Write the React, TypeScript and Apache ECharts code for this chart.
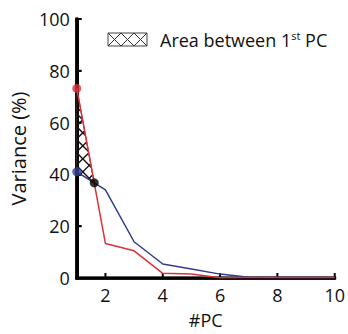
import React, { useEffect, useRef } from "react";
import * as echarts from "echarts";

const pcs = [1, 2, 3, 4, 5, 6, 7, 8, 9, 10];
const redValues = [73.2, 13.3, 10.5, 1.8, 1.5, 0.1, 0.2, 0.2, 0.2, 0.2];
const blueValues = [41, 34, 14, 5.4, 3.5, 1.5, 0.3, 0.2, 0.2, 0.2];
const xTicks = [2, 4, 6, 8, 10];
const yTicks = [0, 20, 40, 60, 80, 100];
const legendText = "Area between 1";
const legendSup = "st";
const legendTail = " PC";

const FONT = "Open Sans";
const RED = "#e0303a";
const BLUE = "#323d8e";

function clipLineToPolygon(poly: number[][], s: number, c: number) {
  const pts: number[][] = [];
  for (let i = 0; i < poly.length; i++) {
    const p = poly[i];
    const q = poly[(i + 1) % poly.length];
    const dx = q[0] - p[0];
    const dy = q[1] - p[1];
    const denom = dy - s * dx;
    if (Math.abs(denom) < 1e-9) continue;
    const t = (s * p[0] + c - p[1]) / denom;
    if (t >= -1e-9 && t <= 1 + 1e-9) pts.push([p[0] + t * dx, p[1] + t * dy]);
  }
  if (pts.length < 2) return null;
  pts.sort((a, b) => a[0] - b[0]);
  const a = pts[0];
  const b = pts[pts.length - 1];
  if (Math.hypot(a[0] - b[0], a[1] - b[1]) < 0.5) return null;
  return [a, b];
}

function hatchLines(poly: number[][], spacing: number, stroke: string, lw: number, ox: number, oy: number) {
  const local = poly.map((p) => [p[0] - ox, p[1] - oy]);
  const xs = local.map((p) => p[0]);
  const ys = local.map((p) => p[1]);
  const els: any[] = [];
  for (const s of [1, -1]) {
    const c0 = s === 1 ? Math.min(...ys) - Math.max(...xs) : Math.min(...ys) + Math.min(...xs);
    const c1 = s === 1 ? Math.max(...ys) - Math.min(...xs) : Math.max(...ys) + Math.max(...xs);
    const start = Math.floor(c0 / spacing) * spacing;
    for (let c = start; c <= c1 + spacing; c += spacing) {
      const seg = clipLineToPolygon(local, s, c);
      if (seg) {
        els.push({
          type: "line",
          shape: { x1: seg[0][0] + ox, y1: seg[0][1] + oy, x2: seg[1][0] + ox, y2: seg[1][1] + oy },
          style: { stroke, lineWidth: lw },
        });
      }
    }
  }
  return els;
}

export default function App() {
  const ref = useRef<HTMLDivElement>(null);
  useEffect(() => {
    if (!ref.current) return;
    const chart = echarts.init(ref.current, undefined, { renderer: "svg" });

    const d0 = redValues[0] - blueValues[0];
    const d1 = redValues[1] - blueValues[1];
    const t = d0 / (d0 - d1);
    const xi = pcs[0] + t * (pcs[1] - pcs[0]);
    const yi = redValues[0] + t * (redValues[1] - redValues[0]);
    const xMin = pcs[0];
    const xMax = pcs[pcs.length - 1];
    const yMin = yTicks[0];
    const yMax = yTicks[yTicks.length - 1];

    const legendPoly = [
      [108, 33],
      [147, 33],
      [147, 46],
      [108, 46],
    ];

    chart.setOption({
      animation: false,
      grid: { left: 72, right: 11, top: 19, bottom: 51 },
      xAxis: {
        type: "value",
        min: xMin,
        max: xMax,
        interval: 1,
        name: "#PC",
        nameLocation: "middle",
        nameGap: 33,
        nameTextStyle: { fontFamily: FONT, fontSize: 18, color: "#111" },
        axisLine: { show: true, onZero: false, lineStyle: { color: "#000", width: 2.5 } },
        axisTick: { show: false },
        axisLabel: {
          fontFamily: FONT,
          fontSize: 18,
          color: "#111",
          margin: 8,
          formatter: (v: number) => (xTicks.indexOf(v) >= 0 ? String(v) : ""),
        },
        splitLine: { show: false },
      },
      yAxis: {
        type: "value",
        min: yMin,
        max: yMax,
        interval: 20,
        name: "Variance (%)",
        nameLocation: "middle",
        nameGap: 38,
        nameTextStyle: { fontFamily: FONT, fontSize: 20, color: "#111" },
        axisLine: { show: true, onZero: false, lineStyle: { color: "#000", width: 3 } },
        axisTick: { show: true, inside: true, length: 4, lineStyle: { color: "#000", width: 2 } },
        axisLabel: { fontFamily: FONT, fontSize: 18, color: "#111", margin: 7 },
        splitLine: { show: false },
      },
      series: [
        {
          type: "line",
          data: [
            [xMin, yMax],
            [xMin, yMin],
            [xMax, yMin],
          ],
          symbol: "none",
          clip: false,
          silent: true,
          lineStyle: { color: "#000", width: 3, cap: "square", join: "miter" },
          z: 1,
        },
        {
          type: "custom",
          coordinateSystem: "cartesian2d",
          data: [[xMin, yMin]],
          clip: false,
          renderItem: (_params: any, api: any) => {
            const A = api.coord([pcs[0], redValues[0]]);
            const C = api.coord([xi, yi]);
            const B = api.coord([pcs[0], blueValues[0]]);
            const poly = [A, C, B];
            return {
              type: "group",
              children: [
                {
                  type: "polygon",
                  shape: { points: poly },
                  style: { fill: "rgba(255,255,255,0)", stroke: "#3a2a2a", lineWidth: 1 },
                },
                ...hatchLines(poly, 13, "#111", 1.4, B[0] + 6, B[1]),
              ],
            };
          },
        },
        {
          type: "line",
          data: pcs.map((x, i) => [x, blueValues[i]]),
          symbol: "none",
          lineStyle: { color: BLUE, width: 1.5 },
          z: 3,
        },
        {
          type: "line",
          data: pcs.map((x, i) => [x, redValues[i]]),
          symbol: "none",
          lineStyle: { color: RED, width: 1.5 },
          z: 4,
        },
        {
          type: "scatter",
          data: [
            { value: [pcs[0], redValues[0]], itemStyle: { color: RED } },
            { value: [pcs[0], blueValues[0]], itemStyle: { color: BLUE } },
            { value: [xi, yi], itemStyle: { color: "#000" } },
          ],
          symbolSize: 9,
          z: 7,
        },
      ],
    });

    const px = (x: number, y: number) => chart.convertToPixel({ gridIndex: 0 }, [x, y]) as number[];
    const o = px(xMin, yMin);
    const top = px(xMin, yMax);
    const right = px(xMax, yMin);
    const axisEls: any[] = [
      {
        type: "rect",
        shape: { x: o[0] - 1.5, y: top[1] - 1, width: 3, height: o[1] - top[1] + 2.5 },
        style: { fill: "#000" },
      },
      {
        type: "rect",
        shape: { x: o[0] - 1.5, y: o[1] - 1.25, width: right[0] - o[0] + 2.5, height: 2.5 },
        style: { fill: "#000" },
      },
    ];
    xTicks.forEach((v) => {
      const c = px(v, yMin);
      axisEls.push({ type: "rect", shape: { x: c[0] - 1, y: o[1] - 5, width: 2, height: 4 }, style: { fill: "#000" } });
    });
    yTicks.forEach((v) => {
      const c = px(xMin, v);
      axisEls.push({ type: "rect", shape: { x: o[0] + 1, y: c[1] - 1, width: 4, height: 2 }, style: { fill: "#000" } });
    });

    chart.setOption({
      graphic: [
        {
          type: "group",
          z: 3,
          children: axisEls,
        },
        {
          type: "group",
          children: [
            {
              type: "rect",
              shape: { x: 108, y: 33, width: 39, height: 13 },
              style: { fill: "#fff", stroke: "#444", lineWidth: 1 },
            },
            ...hatchLines(legendPoly, 13, "#333", 1, 108, 33),
            {
              type: "text",
              x: 160,
              y: 39.5,
              style: {
                text: `{a|${legendText}}{s|${legendSup}}{a|${legendTail}}`,
                verticalAlign: "middle",
                rich: {
                  a: { fontFamily: FONT, fontSize: 18, fill: "#111" },
                  s: { fontFamily: FONT, fontSize: 11, fill: "#111", verticalAlign: "top", padding: [0, 0, 8, 0] },
                },
              },
            },
          ],
        },
      ],
    });
    return () => chart.dispose();
  }, []);
  return <div ref={ref} style={{ width: 348, height: 334, position: "absolute", left: 0, top: 0 }} />;
}
